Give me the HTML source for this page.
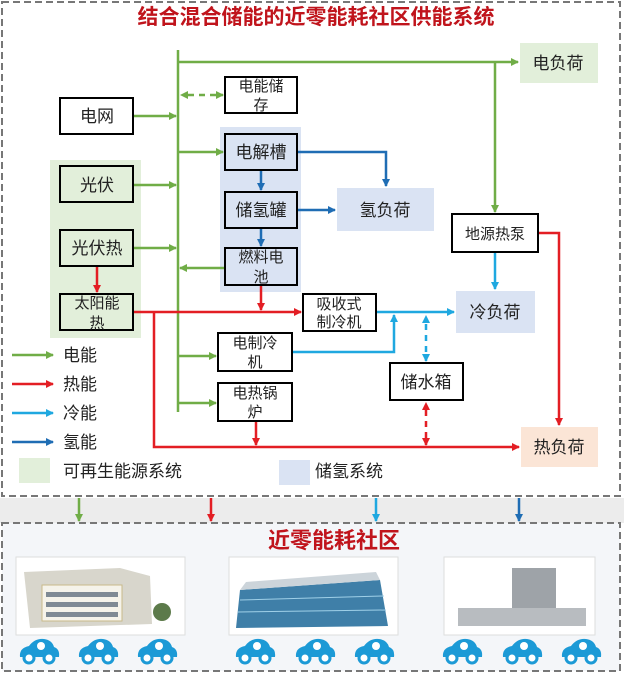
<!DOCTYPE html>
<html><head><meta charset="utf-8"><style>
body{margin:0;background:#fff;}
svg text{font-family:"Liberation Sans","Noto Sans CJK SC",sans-serif;}
</style></head><body>
<svg width="624" height="673" viewBox="0 0 624 673" xmlns="http://www.w3.org/2000/svg">
<defs>
<marker id="g" markerWidth="8" markerHeight="8" refX="7" refY="4" orient="auto" markerUnits="userSpaceOnUse"><path d="M0,0 L8,4 L0,8z" fill="#70ad47"/></marker>
<marker id="r" markerWidth="8" markerHeight="8" refX="7" refY="4" orient="auto" markerUnits="userSpaceOnUse"><path d="M0,0 L8,4 L0,8z" fill="#e31e24"/></marker>
<marker id="c" markerWidth="8" markerHeight="8" refX="7" refY="4" orient="auto" markerUnits="userSpaceOnUse"><path d="M0,0 L8,4 L0,8z" fill="#1fa8e0"/></marker>
<marker id="b" markerWidth="8" markerHeight="8" refX="7" refY="4" orient="auto" markerUnits="userSpaceOnUse"><path d="M0,0 L8,4 L0,8z" fill="#1f6db4"/></marker>
</defs>
<rect x="0" y="0" width="624" height="673" fill="#fff"/>
<rect x="0" y="498" width="624" height="25" fill="#ececec"/>
<rect x="2" y="523" width="618" height="148" fill="#f4f6f9"/>
<rect x="2" y="2" width="618" height="494" fill="none" stroke="#777" stroke-width="2" stroke-dasharray="7,4"/>
<rect x="2" y="523" width="618" height="148" fill="none" stroke="#777" stroke-width="2" stroke-dasharray="7,4"/>
<text x="316" y="24" font-size="21" font-weight="bold" fill="#c0141c" text-anchor="middle">结合混合储能的近零能耗社区供能系统</text>
<rect x="50" y="160" width="91" height="178" fill="#e2efda"/>
<rect x="220" y="127" width="81" height="165" fill="#dae3f3"/>
<rect x="520" y="43" width="78" height="40" fill="#e2efda"/>
<rect x="337" y="188" width="97" height="43" fill="#dae3f3"/>
<rect x="456" y="291" width="79" height="42" fill="#dae3f3"/>
<rect x="521" y="427" width="77" height="40" fill="#fbe5d6"/>
<g stroke="#70ad47" stroke-width="2.5" fill="none">
<line x1="178" y1="50" x2="178" y2="412"/>
<line x1="178" y1="62" x2="518" y2="62" marker-end="url(#g)"/>
<line x1="495" y1="62" x2="495" y2="212" marker-end="url(#g)"/>
<line x1="133" y1="116" x2="176" y2="116" marker-end="url(#g)"/>
<line x1="133" y1="185" x2="176" y2="185" marker-end="url(#g)"/>
<line x1="133" y1="248" x2="176" y2="248" marker-end="url(#g)"/>
<line x1="178" y1="152" x2="223" y2="152" marker-end="url(#g)"/>
<line x1="225" y1="268" x2="180" y2="268" marker-end="url(#g)"/>
<line x1="178" y1="356" x2="216" y2="356" marker-end="url(#g)"/>
<line x1="178" y1="403" x2="216" y2="403" marker-end="url(#g)"/>
<line x1="188" y1="95" x2="223" y2="95" stroke-dasharray="6,5" marker-end="url(#g)"/>
</g>
<path d="M188,91 L180,95 L188,99z" fill="#70ad47"/>
<g stroke="#1f6db4" stroke-width="2.5" fill="none">
<line x1="261" y1="170" x2="261" y2="190" marker-end="url(#b)"/>
<line x1="261" y1="228" x2="261" y2="246" marker-end="url(#b)"/>
<polyline points="297,152 386,152 386,186" marker-end="url(#b)"/>
<line x1="297" y1="210" x2="335" y2="210" marker-end="url(#b)"/>
</g>
<g stroke="#1fa8e0" stroke-width="2.5" fill="none">
<line x1="495" y1="252" x2="495" y2="289" marker-end="url(#c)"/>
<line x1="376" y1="312" x2="454" y2="312" marker-end="url(#c)"/>
<polyline points="292,352 394,352 394,315" marker-end="url(#c)"/>
<line x1="426" y1="324" x2="426" y2="361" stroke-dasharray="6,5" marker-end="url(#c)"/>
</g>
<path d="M422,323 L426,315 L430,323z" fill="#1fa8e0"/>
<g stroke="#e31e24" stroke-width="2.5" fill="none">
<line x1="97" y1="266" x2="97" y2="292" marker-end="url(#r)"/>
<line x1="133" y1="312" x2="301" y2="312" marker-end="url(#r)"/>
<line x1="261" y1="285" x2="261" y2="310" marker-end="url(#r)"/>
<polyline points="154,312 154,447 519,447" marker-end="url(#r)"/>
<line x1="256" y1="421" x2="256" y2="445" marker-end="url(#r)"/>
<polyline points="538,233 559,233 559,425" marker-end="url(#r)"/>
<line x1="426" y1="410" x2="426" y2="445" stroke-dasharray="6,5" marker-end="url(#r)"/>
</g>
<path d="M422,410 L426,402 L430,410z" fill="#e31e24"/>
<g fill="#fff" stroke="#000" stroke-width="2">
<rect x="60" y="98" width="73" height="36"/>
<rect x="225" y="77" width="72" height="36"/>
<rect x="60" y="166" width="73" height="36" fill="#e2efda"/>
<rect x="60" y="230" width="73" height="36" fill="#e2efda"/>
<rect x="60" y="294" width="73" height="36" fill="#e2efda"/>
<rect x="225" y="134" width="72" height="36" fill="#dae3f3"/>
<rect x="225" y="192" width="72" height="36" fill="#dae3f3"/>
<rect x="225" y="248" width="72" height="37" fill="#dae3f3"/>
<rect x="452" y="214" width="86" height="38"/>
<rect x="303" y="294" width="73" height="37"/>
<rect x="218" y="333" width="74" height="38"/>
<rect x="218" y="383" width="74" height="38"/>
<rect x="390" y="363" width="73" height="37"/>
</g>
<g font-size="17" fill="#222" text-anchor="middle">
<text x="97" y="122">电网</text>
<text x="261" y="91" font-size="15">电能储</text><text x="261" y="110" font-size="15">存</text>
<text x="97" y="191">光伏</text>
<text x="97" y="254">光伏热</text>
<text x="97" y="308" font-size="15">太阳能</text><text x="97" y="328" font-size="15">热</text>
<text x="261" y="158">电解槽</text>
<text x="261" y="216">储氢罐</text>
<text x="261" y="262" font-size="15">燃料电</text><text x="261" y="282" font-size="15">池</text>
<text x="558" y="69">电负荷</text>
<text x="385" y="216">氢负荷</text>
<text x="495" y="239" font-size="15">地源热泵</text>
<text x="339" y="309" font-size="15">吸收式</text><text x="339" y="327" font-size="15">制冷机</text>
<text x="495" y="318">冷负荷</text>
<text x="255" y="348" font-size="15">电制冷</text><text x="255" y="367" font-size="15">机</text>
<text x="255" y="398" font-size="15">电热锅</text><text x="255" y="417" font-size="15">炉</text>
<text x="426" y="388">储水箱</text>
<text x="559" y="453">热负荷</text>
</g>
<g stroke-width="2.5">
<line x1="12" y1="355" x2="53" y2="355" stroke="#70ad47" marker-end="url(#g)"/>
<line x1="12" y1="384" x2="53" y2="384" stroke="#e31e24" marker-end="url(#r)"/>
<line x1="12" y1="413" x2="53" y2="413" stroke="#1fa8e0" marker-end="url(#c)"/>
<line x1="12" y1="442" x2="53" y2="442" stroke="#1f6db4" marker-end="url(#b)"/>
</g>
<g font-size="17" fill="#222">
<text x="63" y="361">电能</text>
<text x="63" y="390">热能</text>
<text x="63" y="419">冷能</text>
<text x="63" y="448">氢能</text>
<text x="63" y="477">可再生能源系统</text>
<text x="315" y="477">储氢系统</text>
</g>
<rect x="19" y="458" width="31" height="25" fill="#e2efda"/>
<rect x="279" y="460" width="31" height="25" fill="#dae3f3"/>
<g stroke-width="2.5">
<line x1="79" y1="498" x2="79" y2="521" stroke="#70ad47" marker-end="url(#g)"/>
<line x1="211" y1="498" x2="211" y2="521" stroke="#e31e24" marker-end="url(#r)"/>
<line x1="376" y1="498" x2="376" y2="521" stroke="#1fa8e0" marker-end="url(#c)"/>
<line x1="519" y1="498" x2="519" y2="521" stroke="#1f6db4" marker-end="url(#b)"/>
</g>
<text x="334" y="548" font-size="22" font-weight="bold" fill="#c0141c" text-anchor="middle">近零能耗社区</text>
<g stroke="#ddd" fill="#fff">
<rect x="16" y="557" width="169" height="78"/>
<rect x="229" y="557" width="169" height="78"/>
<rect x="444" y="557" width="151" height="78"/>
</g>
<path d="M24,572 L120,568 L150,576 L152,624 L30,628z" fill="#d8d6cc"/>
<rect x="42" y="585" width="80" height="36" fill="#f5f3ea" stroke="#c9b98a"/>
<g fill="#7f8a94"><rect x="46" y="592" width="72" height="5"/><rect x="46" y="602" width="72" height="5"/><rect x="46" y="612" width="72" height="5"/></g>
<circle cx="162" cy="612" r="9" fill="#5c7a4a"/>
<path d="M240,590 L380,580 L388,626 L236,628z" fill="#3f7fa8"/>
<path d="M240,590 L380,580 L376,572 L246,582z" fill="#ccd4da"/>
<g stroke="#9fd0e8" stroke-width="1"><line x1="240" y1="600" x2="384" y2="596"/><line x1="238" y1="612" x2="386" y2="610"/></g>
<rect x="512" y="568" width="44" height="58" fill="#9ea3a8"/>
<rect x="458" y="608" width="128" height="18" fill="#b8bcc0"/>
<g fill="#1c9ad6">
<g transform="translate(39,651)"><path d="M-19,6 Q-20,-3 -10,-5 Q-4,-13 5,-12 Q13,-11 15,-4 Q21,-2 20,6z"/><circle cx="-10" cy="7" r="5" fill="#fff" stroke="#1c9ad6" stroke-width="3"/><circle cx="10" cy="7" r="5" fill="#fff" stroke="#1c9ad6" stroke-width="3"/><circle cx="2" cy="-5" r="4" fill="#fff"/></g>
<g transform="translate(98,651)"><path d="M-19,6 Q-20,-3 -10,-5 Q-4,-13 5,-12 Q13,-11 15,-4 Q21,-2 20,6z"/><circle cx="-10" cy="7" r="5" fill="#fff" stroke="#1c9ad6" stroke-width="3"/><circle cx="10" cy="7" r="5" fill="#fff" stroke="#1c9ad6" stroke-width="3"/><circle cx="2" cy="-5" r="4" fill="#fff"/></g>
<g transform="translate(157,651)"><path d="M-19,6 Q-20,-3 -10,-5 Q-4,-13 5,-12 Q13,-11 15,-4 Q21,-2 20,6z"/><circle cx="-10" cy="7" r="5" fill="#fff" stroke="#1c9ad6" stroke-width="3"/><circle cx="10" cy="7" r="5" fill="#fff" stroke="#1c9ad6" stroke-width="3"/><circle cx="2" cy="-5" r="4" fill="#fff"/></g>
<g transform="translate(255,651)"><path d="M-19,6 Q-20,-3 -10,-5 Q-4,-13 5,-12 Q13,-11 15,-4 Q21,-2 20,6z"/><circle cx="-10" cy="7" r="5" fill="#fff" stroke="#1c9ad6" stroke-width="3"/><circle cx="10" cy="7" r="5" fill="#fff" stroke="#1c9ad6" stroke-width="3"/><circle cx="2" cy="-5" r="4" fill="#fff"/></g>
<g transform="translate(315,651)"><path d="M-19,6 Q-20,-3 -10,-5 Q-4,-13 5,-12 Q13,-11 15,-4 Q21,-2 20,6z"/><circle cx="-10" cy="7" r="5" fill="#fff" stroke="#1c9ad6" stroke-width="3"/><circle cx="10" cy="7" r="5" fill="#fff" stroke="#1c9ad6" stroke-width="3"/><circle cx="2" cy="-5" r="4" fill="#fff"/></g>
<g transform="translate(374,651)"><path d="M-19,6 Q-20,-3 -10,-5 Q-4,-13 5,-12 Q13,-11 15,-4 Q21,-2 20,6z"/><circle cx="-10" cy="7" r="5" fill="#fff" stroke="#1c9ad6" stroke-width="3"/><circle cx="10" cy="7" r="5" fill="#fff" stroke="#1c9ad6" stroke-width="3"/><circle cx="2" cy="-5" r="4" fill="#fff"/></g>
<g transform="translate(462,651)"><path d="M-19,6 Q-20,-3 -10,-5 Q-4,-13 5,-12 Q13,-11 15,-4 Q21,-2 20,6z"/><circle cx="-10" cy="7" r="5" fill="#fff" stroke="#1c9ad6" stroke-width="3"/><circle cx="10" cy="7" r="5" fill="#fff" stroke="#1c9ad6" stroke-width="3"/><circle cx="2" cy="-5" r="4" fill="#fff"/></g>
<g transform="translate(522,651)"><path d="M-19,6 Q-20,-3 -10,-5 Q-4,-13 5,-12 Q13,-11 15,-4 Q21,-2 20,6z"/><circle cx="-10" cy="7" r="5" fill="#fff" stroke="#1c9ad6" stroke-width="3"/><circle cx="10" cy="7" r="5" fill="#fff" stroke="#1c9ad6" stroke-width="3"/><circle cx="2" cy="-5" r="4" fill="#fff"/></g>
<g transform="translate(581,651)"><path d="M-19,6 Q-20,-3 -10,-5 Q-4,-13 5,-12 Q13,-11 15,-4 Q21,-2 20,6z"/><circle cx="-10" cy="7" r="5" fill="#fff" stroke="#1c9ad6" stroke-width="3"/><circle cx="10" cy="7" r="5" fill="#fff" stroke="#1c9ad6" stroke-width="3"/><circle cx="2" cy="-5" r="4" fill="#fff"/></g>
</g>
</svg>
</body></html>
